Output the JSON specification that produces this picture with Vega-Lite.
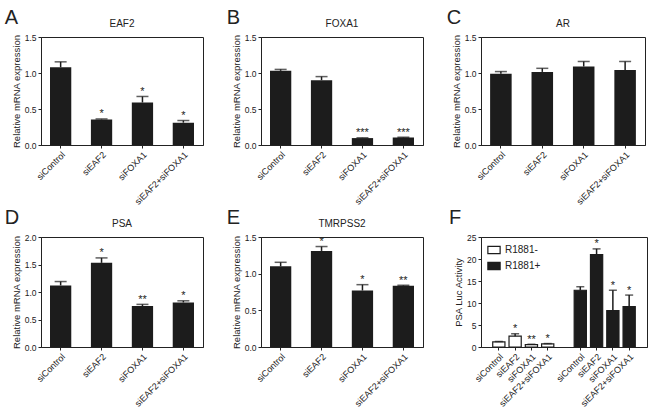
{
  "$schema": "https://vega.github.io/schema/vega-lite/v6.json",
  "padding": {"left": 4, "top": 7, "right": 2, "bottom": 0},
  "background": "white",
  "datasets": {
    "EAF2": [
      {"g": "siControl", "mean": 1.08, "upper": 1.155, "sig": ""},
      {"g": "siEAF2", "mean": 0.355, "upper": 0.362, "sig": "*"},
      {"g": "siFOXA1", "mean": 0.59, "upper": 0.674, "sig": "*"},
      {"g": "siEAF2+siFOXA1", "mean": 0.31, "upper": 0.34, "sig": "*"}
    ],
    "FOXA1": [
      {"g": "siControl", "mean": 1.03, "upper": 1.05, "sig": ""},
      {"g": "siEAF2", "mean": 0.9, "upper": 0.95, "sig": ""},
      {"g": "siFOXA1", "mean": 0.096, "upper": 0.1, "sig": "***"},
      {"g": "siEAF2+siFOXA1", "mean": 0.103, "upper": 0.108, "sig": "***"}
    ],
    "AR": [
      {"g": "siControl", "mean": 0.99, "upper": 1.02, "sig": ""},
      {"g": "siEAF2", "mean": 1.015, "upper": 1.065, "sig": ""},
      {"g": "siFOXA1", "mean": 1.09, "upper": 1.16, "sig": ""},
      {"g": "siEAF2+siFOXA1", "mean": 1.04, "upper": 1.16, "sig": ""}
    ],
    "PSA": [
      {"g": "siControl", "mean": 1.12, "upper": 1.19, "sig": ""},
      {"g": "siEAF2", "mean": 1.53, "upper": 1.62, "sig": "*"},
      {"g": "siFOXA1", "mean": 0.745, "upper": 0.775, "sig": "**"},
      {"g": "siEAF2+siFOXA1", "mean": 0.81, "upper": 0.84, "sig": "*"}
    ],
    "TMRPSS2": [
      {"g": "siControl", "mean": 1.1, "upper": 1.155, "sig": ""},
      {"g": "siEAF2", "mean": 1.31, "upper": 1.37, "sig": "*"},
      {"g": "siFOXA1", "mean": 0.77, "upper": 0.85, "sig": "*"},
      {"g": "siEAF2+siFOXA1", "mean": 0.835, "upper": 0.842, "sig": "**"}
    ],
    "LUC": [
      {"k": "siControl|R1881-", "t": "R1881-", "mean": 1.15, "upper": 1.25, "sig": ""},
      {"k": "siEAF2|R1881-", "t": "R1881-", "mean": 2.46, "upper": 3.0, "sig": "*"},
      {"k": "siFOXA1|R1881-", "t": "R1881-", "mean": 0.55, "upper": 0.62, "sig": "**"},
      {"k": "siEAF2+siFOXA1|R1881-", "t": "R1881-", "mean": 0.7, "upper": 0.78, "sig": "*"},
      {"k": "siControl|R1881+", "t": "R1881+", "mean": 12.9, "upper": 13.7, "sig": ""},
      {"k": "siEAF2|R1881+", "t": "R1881+", "mean": 21.0, "upper": 22.3, "sig": "*"},
      {"k": "siFOXA1|R1881+", "t": "R1881+", "mean": 8.3, "upper": 12.9, "sig": "*"},
      {"k": "siEAF2+siFOXA1|R1881+", "t": "R1881+", "mean": 9.2, "upper": 11.8, "sig": "*"}
    ]
  },
  "columns": 3,
  "spacing": {"column": 22, "row": 0},
  "resolve": {"scale": {"color": "independent"}, "legend": {"color": "independent"}},
  "concat": [
    {
      "title": {"text": "A", "anchor": "start", "fontSize": 20, "offset": -9, "dx": -6},
      "vconcat": [{
        "title": "EAF2", "width": 162, "height": 108,
        "data": {"name": "EAF2"},
        "encoding": {"x": {"field": "g", "type": "nominal", "sort": ["siControl", "siEAF2", "siFOXA1", "siEAF2+siFOXA1"], "scale": {"paddingInner": 0.48, "paddingOuter": 0.22}, "axis": {"title": null, "labelAngle": -45, "labelFontSize": 9, "labelPadding": 2}}},
        "layer": [
          {"mark": {"type": "bar", "color": "#1c1c1c"}, "encoding": {"y": {"field": "mean", "type": "quantitative", "title": "Relative mRNA expression", "scale": {"domain": [0, 1.5], "nice": false}, "axis": {"values": [0, 0.5, 1, 1.5], "tickCount": 10, "format": ".1f", "labelOverlap": false}}}},
          {"mark": {"type": "rule", "color": "#1c1c1c", "strokeWidth": 1.5}, "encoding": {"y": {"field": "mean", "type": "quantitative", "title": "Relative mRNA expression"}, "y2": {"field": "upper"}}},
          {"mark": {"type": "tick", "color": "#1c1c1c", "size": 12, "thickness": 1.5}, "encoding": {"y": {"field": "upper", "type": "quantitative", "title": "Relative mRNA expression"}}},
          {"mark": {"type": "text", "fontSize": 11, "baseline": "alphabetic", "dy": -1.5, "color": "#222"}, "encoding": {"y": {"field": "upper", "type": "quantitative", "title": "Relative mRNA expression"}, "text": {"field": "sig"}}}
        ]
      }]
    },
    {
      "title": {"text": "B", "anchor": "start", "fontSize": 20, "offset": -9, "dx": -4},
      "vconcat": [{
        "title": "FOXA1", "width": 162, "height": 108,
        "data": {"name": "FOXA1"},
        "encoding": {"x": {"field": "g", "type": "nominal", "sort": ["siControl", "siEAF2", "siFOXA1", "siEAF2+siFOXA1"], "scale": {"paddingInner": 0.48, "paddingOuter": 0.22}, "axis": {"title": null, "labelAngle": -45, "labelFontSize": 9, "labelPadding": 2}}},
        "layer": [
          {"mark": {"type": "bar", "color": "#1c1c1c"}, "encoding": {"y": {"field": "mean", "type": "quantitative", "title": "Relative mRNA expression", "scale": {"domain": [0, 1.5], "nice": false}, "axis": {"values": [0, 0.5, 1, 1.5], "tickCount": 10, "format": ".1f", "labelOverlap": false}}}},
          {"mark": {"type": "rule", "color": "#1c1c1c", "strokeWidth": 1.5}, "encoding": {"y": {"field": "mean", "type": "quantitative", "title": "Relative mRNA expression"}, "y2": {"field": "upper"}}},
          {"mark": {"type": "tick", "color": "#1c1c1c", "size": 12, "thickness": 1.5}, "encoding": {"y": {"field": "upper", "type": "quantitative", "title": "Relative mRNA expression"}}},
          {"mark": {"type": "text", "fontSize": 11, "baseline": "alphabetic", "dy": -1.5, "color": "#222"}, "encoding": {"y": {"field": "upper", "type": "quantitative", "title": "Relative mRNA expression"}, "text": {"field": "sig"}}}
        ]
      }]
    },
    {
      "title": {"text": "C", "anchor": "start", "fontSize": 20, "offset": -9, "dx": -4},
      "vconcat": [{
        "title": "AR", "width": 164, "height": 108,
        "data": {"name": "AR"},
        "encoding": {"x": {"field": "g", "type": "nominal", "sort": ["siControl", "siEAF2", "siFOXA1", "siEAF2+siFOXA1"], "scale": {"paddingInner": 0.48, "paddingOuter": 0.22}, "axis": {"title": null, "labelAngle": -45, "labelFontSize": 9, "labelPadding": 2}}},
        "layer": [
          {"mark": {"type": "bar", "color": "#1c1c1c"}, "encoding": {"y": {"field": "mean", "type": "quantitative", "title": "Relative mRNA expression", "scale": {"domain": [0, 1.5], "nice": false}, "axis": {"values": [0, 0.5, 1, 1.5], "tickCount": 10, "format": ".1f", "labelOverlap": false}}}},
          {"mark": {"type": "rule", "color": "#1c1c1c", "strokeWidth": 1.5}, "encoding": {"y": {"field": "mean", "type": "quantitative", "title": "Relative mRNA expression"}, "y2": {"field": "upper"}}},
          {"mark": {"type": "tick", "color": "#1c1c1c", "size": 12, "thickness": 1.5}, "encoding": {"y": {"field": "upper", "type": "quantitative", "title": "Relative mRNA expression"}}},
          {"mark": {"type": "text", "fontSize": 11, "baseline": "alphabetic", "dy": -1.5, "color": "#222"}, "encoding": {"y": {"field": "upper", "type": "quantitative", "title": "Relative mRNA expression"}, "text": {"field": "sig"}}}
        ]
      }]
    },
    {
      "title": {"text": "D", "anchor": "start", "fontSize": 20, "offset": -9, "dx": -6},
      "vconcat": [{
        "title": "PSA", "width": 162, "height": 110,
        "data": {"name": "PSA"},
        "encoding": {"x": {"field": "g", "type": "nominal", "sort": ["siControl", "siEAF2", "siFOXA1", "siEAF2+siFOXA1"], "scale": {"paddingInner": 0.48, "paddingOuter": 0.22}, "axis": {"title": null, "labelAngle": -45, "labelFontSize": 9, "labelPadding": 2}}},
        "layer": [
          {"mark": {"type": "bar", "color": "#1c1c1c"}, "encoding": {"y": {"field": "mean", "type": "quantitative", "title": "Relative mRNA expression", "scale": {"domain": [0, 2], "nice": false}, "axis": {"values": [0, 0.5, 1, 1.5, 2], "tickCount": 10, "format": ".1f", "labelOverlap": false}}}},
          {"mark": {"type": "rule", "color": "#1c1c1c", "strokeWidth": 1.5}, "encoding": {"y": {"field": "mean", "type": "quantitative", "title": "Relative mRNA expression"}, "y2": {"field": "upper"}}},
          {"mark": {"type": "tick", "color": "#1c1c1c", "size": 12, "thickness": 1.5}, "encoding": {"y": {"field": "upper", "type": "quantitative", "title": "Relative mRNA expression"}}},
          {"mark": {"type": "text", "fontSize": 11, "baseline": "alphabetic", "dy": -1.5, "color": "#222"}, "encoding": {"y": {"field": "upper", "type": "quantitative", "title": "Relative mRNA expression"}, "text": {"field": "sig"}}}
        ]
      }]
    },
    {
      "title": {"text": "E", "anchor": "start", "fontSize": 20, "offset": -9, "dx": -4},
      "vconcat": [{
        "title": "TMRPSS2", "width": 162, "height": 110,
        "data": {"name": "TMRPSS2"},
        "encoding": {"x": {"field": "g", "type": "nominal", "sort": ["siControl", "siEAF2", "siFOXA1", "siEAF2+siFOXA1"], "scale": {"paddingInner": 0.48, "paddingOuter": 0.22}, "axis": {"title": null, "labelAngle": -45, "labelFontSize": 9, "labelPadding": 2}}},
        "layer": [
          {"mark": {"type": "bar", "color": "#1c1c1c"}, "encoding": {"y": {"field": "mean", "type": "quantitative", "title": "Relative mRNA expression", "scale": {"domain": [0, 1.5], "nice": false}, "axis": {"values": [0, 0.5, 1, 1.5], "tickCount": 10, "format": ".1f", "labelOverlap": false}}}},
          {"mark": {"type": "rule", "color": "#1c1c1c", "strokeWidth": 1.5}, "encoding": {"y": {"field": "mean", "type": "quantitative", "title": "Relative mRNA expression"}, "y2": {"field": "upper"}}},
          {"mark": {"type": "tick", "color": "#1c1c1c", "size": 12, "thickness": 1.5}, "encoding": {"y": {"field": "upper", "type": "quantitative", "title": "Relative mRNA expression"}}},
          {"mark": {"type": "text", "fontSize": 11, "baseline": "alphabetic", "dy": -1.5, "color": "#222"}, "encoding": {"y": {"field": "upper", "type": "quantitative", "title": "Relative mRNA expression"}, "text": {"field": "sig"}}}
        ]
      }]
    },
    {
      "title": {"text": "F", "anchor": "start", "fontSize": 20, "offset": -9, "dx": -4},
      "resolve": {"scale": {"color": "independent"}, "legend": {"color": "independent"}},
      "vconcat": [{
        "title": " ", "width": 166, "height": 110,
        "data": {"name": "LUC"},
        "encoding": {"x": {"field": "k", "type": "nominal",
          "scale": {"domain": ["siControl|R1881-", "siEAF2|R1881-", "siFOXA1|R1881-", "siEAF2+siFOXA1|R1881-", "gap", "siControl|R1881+", "siEAF2|R1881+", "siFOXA1|R1881+", "siEAF2+siFOXA1|R1881+"], "paddingInner": 0.25, "paddingOuter": 0.72},
          "axis": {"title": null, "labelAngle": -45, "labelFontSize": 9, "labelPadding": 2,
            "values": ["siControl|R1881-", "siEAF2|R1881-", "siFOXA1|R1881-", "siEAF2+siFOXA1|R1881-", "siControl|R1881+", "siEAF2|R1881+", "siFOXA1|R1881+", "siEAF2+siFOXA1|R1881+"],
            "labelExpr": "split(datum.value, '|')[0]"}}},
        "layer": [
          {"mark": {"type": "bar", "stroke": "#1c1c1c", "strokeWidth": 1.2},
           "encoding": {
             "y": {"field": "mean", "type": "quantitative", "title": "PSA Luc Activity", "scale": {"domain": [0, 25], "nice": false}, "axis": {"values": [0, 5, 10, 15, 20, 25], "tickCount": 10, "format": "d", "labelOverlap": false}},
             "color": {"field": "t", "type": "nominal", "scale": {"domain": ["R1881-", "R1881+"], "range": ["#ffffff", "#1c1c1c"]},
               "legend": {"title": null, "orient": "top-left", "offset": 6, "symbolType": "M-1,-0.6H1V0.6H-1Z", "symbolSize": 150, "symbolStrokeColor": "#1c1c1c", "symbolStrokeWidth": 1.2, "labelFontSize": 10, "rowPadding": 2, "labelColor": "#222"}}
           }},
          {"mark": {"type": "rule", "color": "#1c1c1c", "strokeWidth": 1.5}, "encoding": {"y": {"field": "mean", "type": "quantitative", "title": "PSA Luc Activity"}, "y2": {"field": "upper"}}},
          {"mark": {"type": "tick", "color": "#1c1c1c", "size": 8, "thickness": 1.5}, "encoding": {"y": {"field": "upper", "type": "quantitative", "title": "PSA Luc Activity"}}},
          {"mark": {"type": "text", "fontSize": 11, "baseline": "alphabetic", "dy": -1.5, "color": "#222"}, "encoding": {"y": {"field": "upper", "type": "quantitative", "title": "PSA Luc Activity"}, "text": {"field": "sig"}}}
        ]
      }]
    }
  ],
  "config": {
    "font": "Liberation Sans",
    "view": {"stroke": "#222", "strokeWidth": 1},
    "axis": {"grid": false, "domainColor": "#222", "tickColor": "#222", "labelColor": "#222", "titleColor": "#222", "labelFont": "Liberation Sans", "titleFont": "Liberation Sans", "labelFontSize": 8.5, "titleFontSize": 9.5, "titleFontWeight": "normal", "tickSize": 3, "titlePadding": 3, "labelPadding": 2, "labelOverlap": false},
    "title": {"font": "Liberation Sans", "fontWeight": "normal", "fontSize": 10, "color": "#222", "offset": 4},
    "legend": {"labelFont": "Liberation Sans"}
  }
}
